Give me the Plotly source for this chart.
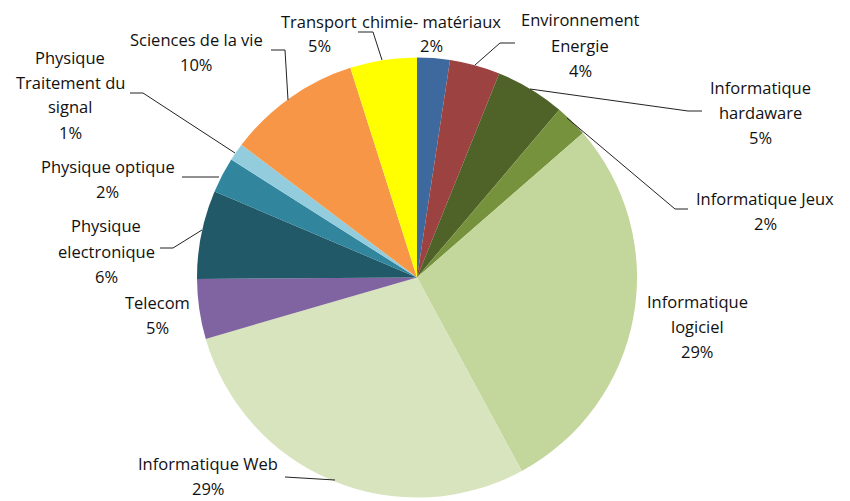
import plotly.graph_objects as go

# slice shares (clockwise from 12 o'clock)
categories = ["chimie- matériaux", "Environnement Energie", "Informatique hardaware",
              "Informatique Jeux", "Informatique logiciel", "Informatique Web", "Telecom",
              "Physique electronique", "Physique optique", "Physique Traitement du signal",
              "Sciences de la vie", "Transport"]
shares = [2.4, 3.7, 5.1, 2.4, 28.5, 28.4, 4.4, 6.5, 2.6, 1.3, 9.8, 4.9]
pct_labels = ["2%", "4%", "5%", "2%", "29%", "29%", "5%", "6%", "2%", "1%", "10%", "5%"]

colors = ["#3D699E", "#9C4240", "#4F6228", "#76923C", "#C3D69B", "#D7E4BD", "#8064A2",
          "#215968", "#31859C", "#93CDDD", "#F79646", "#FFFF00"]

W, H = 850, 501

def px(x):
    return x / W

def py(y):
    return 1 - y / H

# label text lines, anchor (centre x, first line y) in pixels
label_lines = [
    (["chimie- matériaux"], 431, 21),
    (["Environnement", "Energie"], 580, 20),
    (["Informatique", "hardaware"], 760, 87),
    (["Informatique Jeux"], 765, 198),
    (["Informatique", "logiciel"], 697, 301),
    (["Informatique Web"], 208, 463),
    (["Telecom"], 157, 302),
    (["Physique", "electronique"], 106, 226),
    (["Physique optique"], 108, 166),
    (["Physique", "Traitement du", "signal"], 70, 57),
    (["Sciences de la vie"], 196, 39),
    (["Transport"], 319, 21),
]

# leader lines (pixel polylines)
leaders = [
    [(515, 43), (500, 43), (475, 65)],
    [(702, 111), (688, 111), (530, 89)],
    [(688, 209), (675, 209), (567, 118)],
    [(285, 477), (335, 480)],
    [(160, 248), (173, 248), (202, 230)],
    [(182, 177), (219, 177)],
    [(130, 93), (143, 93), (235, 153)],
    [(271, 50), (285, 50), (288, 100)],
    [(358, 32), (373, 32), (382, 60)],
]

fig = go.Figure(go.Pie(
    labels=categories,
    values=shares,
    sort=False,
    direction="clockwise",
    rotation=0,
    textinfo="none",
    hoverinfo="label+percent",
    marker=dict(colors=colors, line=dict(width=0)),
    domain=dict(x=[px(197), px(637)], y=[py(497.5), py(57.5)]),
    showlegend=False,
))

font = dict(family="Open Sans, DejaVu Sans, sans-serif", size=16.5, color="#111111")
step = 25
annotations = []
for (lines, cx, cy), pct in zip(label_lines, pct_labels):
    for i, t in enumerate(lines + [pct]):
        annotations.append(dict(x=px(cx), y=py(cy + i * step), xref="paper", yref="paper",
                                text=t, showarrow=False, font=font, borderpad=0,
                                xanchor="center", yanchor="middle"))

shapes = []
for pts in leaders:
    for (x0, y0), (x1, y1) in zip(pts[:-1], pts[1:]):
        shapes.append(dict(type="line", xref="paper", yref="paper",
                           x0=px(x0), y0=py(y0), x1=px(x1), y1=py(y1),
                           line=dict(color="#222222", width=1)))

fig.update_layout(
    width=W, height=H,
    margin=dict(l=0, r=0, t=0, b=0),
    paper_bgcolor="white",
    plot_bgcolor="white",
    annotations=annotations,
    shapes=shapes,
)

# page body has a default 8px margin; drop it so the figure sits at the corner
fig.write_html("out.html", config={"displayModeBar": False},
               post_script="document.body.style.margin='0';")
